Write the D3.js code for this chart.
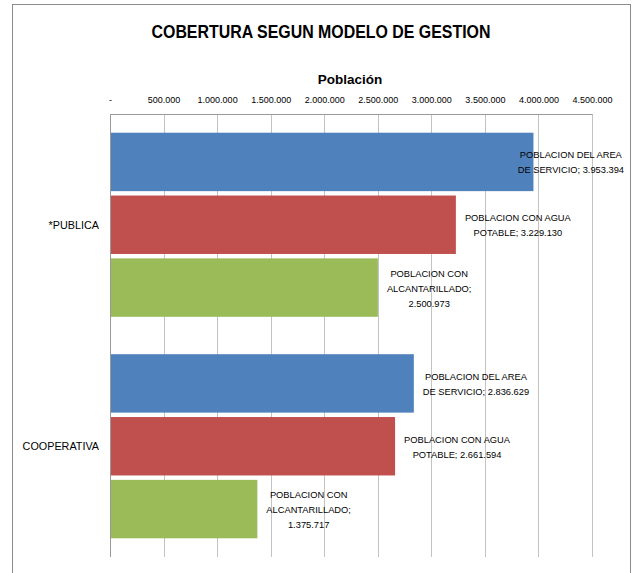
<!DOCTYPE html>
<html>
<head>
<meta charset="utf-8">
<script src="https://cdn.jsdelivr.net/npm/d3@7"></script>
<style>
  body { margin: 0; background: #fff; }
  svg text { font-family: "Liberation Sans", Arial, sans-serif; fill: #000; }
</style>
</head>
<body>
<div id="chart"></div>
<script>
// data
var categories = ["*PUBLICA", "COOPERATIVA"];
var seriesNames = ["POBLACION DEL AREA DE SERVICIO", "POBLACION CON AGUA POTABLE", "POBLACION CON ALCANTARILLADO"];
var seriesLabelLines = [["POBLACION DEL AREA", "DE SERVICIO;"], ["POBLACION CON AGUA", "POTABLE;"], ["POBLACION CON", "ALCANTARILLADO;"]];
var publicaValues = [3953394, 3229130, 2500973];
var cooperativaValues = [2836629, 2661594, 1375717];
var tickValues = [0, 500000, 1000000, 1500000, 2000000, 2500000, 3000000, 3500000, 4000000, 4500000];
var colors = ["#4F81BD", "#C0504D", "#9BBB59"];

var rows = [
  { cat: categories[0], values: publicaValues },
  { cat: categories[1], values: cooperativaValues }
];

var W = 632, H = 573;
var plot = { left: 110, right: 592, top: 114, bottom: 557 };

var svg = d3.select("#chart").append("svg")
  .attr("width", W)
  .attr("height", H);

// chart frame
svg.append("rect")
  .attr("x", 12.5).attr("y", 4.5)
  .attr("width", 618).attr("height", 600)
  .attr("fill", "#fff")
  .attr("stroke", "#8c8c8c");

// number format with dots
function fmt(v) {
  if (v === 0) return "-";
  return d3.format(",")(v).replace(/,/g, ".");
}

var x = d3.scaleLinear().domain([0, 4500000]).range([plot.left, plot.right]);
var y0 = d3.scaleBand().domain(categories).range([plot.top, plot.bottom]).padding(0);
var y1 = d3.scaleBand().domain(d3.range(3)).range([18.7, y0.bandwidth() - 18.7]).paddingInner(0.07).paddingOuter(0);

// gridlines
svg.append("g").selectAll("line")
  .data(tickValues.slice(1))
  .enter().append("line")
  .attr("x1", function(d) { return Math.round(x(d)) + 0.5; })
  .attr("x2", function(d) { return Math.round(x(d)) + 0.5; })
  .attr("y1", plot.top).attr("y2", plot.bottom)
  .attr("stroke", "#c3c3c3");

// top axis
var axis = svg.append("g")
  .attr("transform", "translate(0," + plot.top + ")")
  .call(d3.axisTop(x).tickValues(tickValues).tickFormat(fmt).tickSize(0).tickPadding(11));
axis.select(".domain").attr("stroke", "#999");
axis.selectAll("text").style("font-size", "9px").style("font-family", "'Liberation Sans', sans-serif").attr("fill", "#000");

// left axis line
svg.append("line")
  .attr("x1", plot.left + 0.5).attr("x2", plot.left + 0.5)
  .attr("y1", plot.top).attr("y2", plot.bottom)
  .attr("stroke", "#999");

// bars
var groups = svg.append("g").selectAll("g")
  .data(rows)
  .enter().append("g")
  .attr("transform", function(d) { return "translate(0," + y0(d.cat) + ")"; });

groups.selectAll("rect")
  .data(function(d) { return d.values.map(function(v, i) { return { v: v, i: i }; }); })
  .enter().append("rect")
  .attr("x", x(0) + 1)
  .attr("y", function(d) { return y1(d.i); })
  .attr("width", function(d) { return x(d.v) - x(0) - 1; })
  .attr("height", y1.bandwidth())
  .attr("fill", function(d) { return colors[d.i]; });

// data labels
groups.each(function(row) {
  var g = d3.select(this);
  row.values.forEach(function(v, i) {
    var lines = seriesLabelLines[i].slice();
    if (i === 2) { lines.push(fmt(v)); }
    else { lines[1] = lines[1] + "  " + fmt(v); }
    var lh = 15;
    var cy = y1(i) + y1.bandwidth() / 2;
    var t = g.append("text")
      .style("font-size", "9.3px")
      .attr("text-anchor", "middle");
    lines.forEach(function(s, k) {
      t.append("tspan")
        .attr("x", 0)
        .attr("y", cy + (k - (lines.length - 1) / 2) * lh + 4)
        .text(s);
    });
    var bw = 0;
    t.selectAll("tspan").each(function() { bw = Math.max(bw, this.getComputedTextLength()); });
    var left = Math.min(x(v) + 9, 624 - bw);
    t.selectAll("tspan").attr("x", left + bw / 2);
  });
});

// category labels
svg.append("g").selectAll("text")
  .data(categories)
  .enter().append("text")
  .attr("x", 99)
  .attr("y", function(d) { return y0(d) + y0.bandwidth() / 2 + 4; })
  .attr("text-anchor", "end")
  .style("font-size", "10.8px")
  .text(function(d) { return d; });

// title
svg.append("text")
  .attr("x", 321).attr("y", 38)
  .attr("text-anchor", "middle")
  .attr("textLength", 339)
  .attr("lengthAdjust", "spacingAndGlyphs")
  .style("font-size", "19px")
  .style("font-weight", "bold")
  .text("COBERTURA SEGUN MODELO DE GESTION");

// axis title
svg.append("text")
  .attr("x", 350).attr("y", 84)
  .attr("text-anchor", "middle")
  .style("font-size", "13.5px")
  .style("font-weight", "bold")
  .text("Población");
</script>
</body>
</html>
